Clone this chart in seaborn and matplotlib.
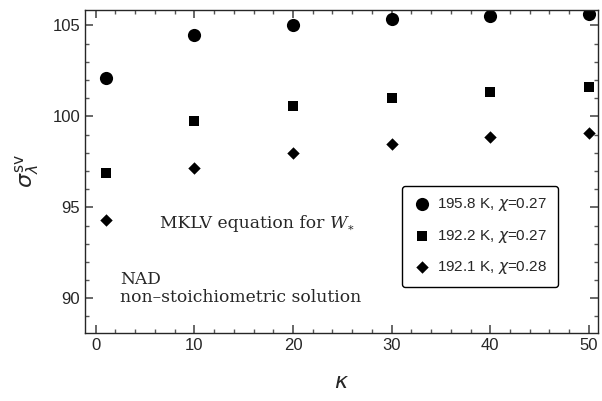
import matplotlib
matplotlib.use("Agg")
import matplotlib.pyplot as plt
from matplotlib.ticker import MultipleLocator
import seaborn as sns
import pandas as pd

kappa = [1, 10, 20, 30, 40, 50]
circ_195_8 = [102.1, 104.45, 105.0, 105.35, 105.5, 105.65]
sq_192_2 = [96.9, 99.75, 100.55, 101.0, 101.35, 101.6]
dia_192_1 = [94.3, 97.15, 98.0, 98.5, 98.85, 99.1]

labels = [r"195.8 K, $\chi$=0.27", r"192.2 K, $\chi$=0.27", r"192.1 K, $\chi$=0.28"]

df = pd.DataFrame({
    "kappa": kappa * 3,
    "sigma": circ_195_8 + sq_192_2 + dia_192_1,
    "series": [labels[0]] * 6 + [labels[1]] * 6 + [labels[2]] * 6,
})

sns.set_theme(style="ticks")
plt.rcParams["font.family"] = ["Liberation Sans", "DejaVu Sans"]
plt.rcParams["mathtext.fontset"] = "dejavusans"

fig = plt.figure(figsize=(6.02, 4.01), dpi=100)
ax = fig.add_axes([0.141, 0.170, 0.852, 0.805])

markers = {labels[0]: "o", labels[1]: "s", labels[2]: "D"}
sizes = {labels[0]: 90, labels[1]: 50, labels[2]: 40}
for lab in labels:
    sub = df[df["series"] == lab]
    sns.scatterplot(data=sub, x="kappa", y="sigma", marker=markers[lab],
                    s=sizes[lab], color="black", edgecolor="black",
                    linewidth=0, ax=ax, label=lab)

ax.set_xlim(-1.1, 50.9)
ax.set_ylim(88.1, 105.85)
ax.xaxis.set_major_locator(MultipleLocator(10))
ax.xaxis.set_minor_locator(MultipleLocator(2))
ax.yaxis.set_major_locator(MultipleLocator(5))
ax.yaxis.set_minor_locator(MultipleLocator(1))
ax.tick_params(which="both", direction="in", top=True, right=True, labelsize=12, color="#555555")
ax.tick_params(which="major", length=6)
ax.tick_params(which="minor", length=3)
for sp in ax.spines.values():
    sp.set_linewidth(1.0)

ax.set_xlabel(r"$\kappa$", fontsize=16, labelpad=14)
ax.set_ylabel(r"$\sigma_\lambda^{\rm sv}$", fontsize=16, labelpad=8)

# annotations (pixel coords from bottom-left)
serif = ["DejaVu Serif"]
fs = 12.3
t = ax.text(160, 177, "MKLV equation for ", transform=None, fontsize=fs,
            family=serif, va="center", ha="left")
renderer = fig.canvas.get_renderer()
x_end = t.get_window_extent(renderer).x1
w = ax.text(x_end, 177, "W", transform=None, fontsize=fs, family=serif,
            style="italic", va="center", ha="left")
w_end = w.get_window_extent(renderer).x1
ax.text(w_end, 171, "*", transform=None, fontsize=8, family=serif,
        va="center", ha="left")
ax.text(120, 122, "NAD", transform=None, fontsize=fs, family=serif, va="center")
ax.text(120, 104, "non\u2013stoichiometric solution", transform=None, fontsize=fs,
        family=serif, va="center")

leg = ax.legend(loc="lower right", bbox_to_anchor=(0.922, 0.142), fontsize=11,
                frameon=True, fancybox=True, handletextpad=0.4, borderaxespad=0,
                labelspacing=0.95, borderpad=0.7, handlelength=1.2)
leg.get_frame().set_edgecolor("black")
leg.get_frame().set_linewidth(1.0)
leg.get_frame().set_alpha(1)

fig.savefig("out.png", dpi=100)
